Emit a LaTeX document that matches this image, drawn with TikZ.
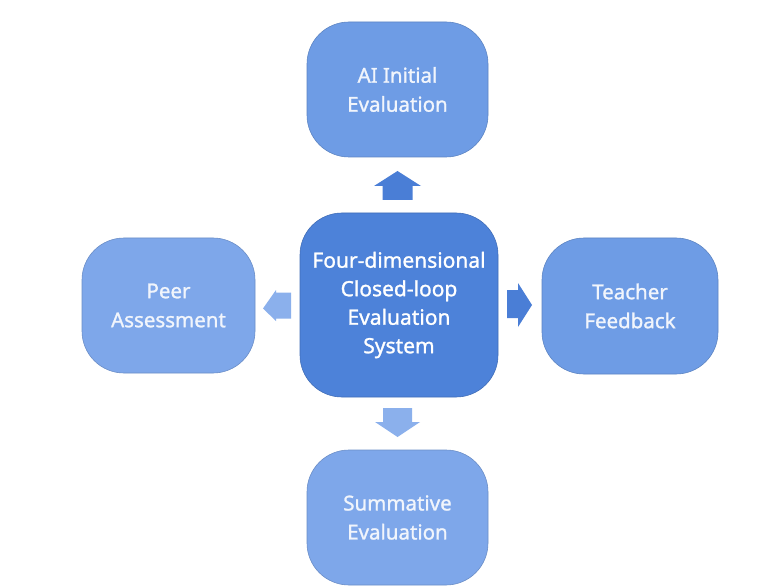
\documentclass[tikz,border=0pt]{standalone}
\usepackage{fontspec}
\setmainfont{Noto Sans}[FakeBold=1.2]
\usetikzlibrary{positioning}
\definecolor{centerblue}{HTML}{4D82D9}
\definecolor{midblue}{HTML}{6E9CE5}
\definecolor{lightblue}{HTML}{7EA7EA}
\definecolor{arrowdark}{HTML}{4A7ED6}
\definecolor{arrowlight}{HTML}{8BB0EC}
\definecolor{boxtext}{HTML}{F1F5FC}
\tikzset{
  x=1pt, y=-1pt,
  outerbox/.style={draw=#1!85!black, line width=0.6pt, fill=#1, rounded corners=42pt, text=boxtext,
    align=center, font=\fontsize{20.5}{29}\selectfont, inner sep=0pt},
  centerbox/.style={draw=centerblue!85!black, line width=0.6pt, fill=centerblue, rounded corners=42pt, text=white,
    align=center, font=\fontsize{21}{28.5}\selectfont, inner sep=0pt},
}
\begin{document}
\begin{tikzpicture}
\useasboundingbox[fill=white] (0,0) rectangle (779,588);
% boxes
\node[centerbox, minimum width=198pt, minimum height=184pt] (center) at (399,305) {Four-dimensional\\Closed-loop\\Evaluation\\System};
\node[outerbox=midblue, minimum width=181pt, minimum height=135pt] (ai) at (397.5,89.5) {AI Initial\\Evaluation};
\node[outerbox=lightblue, minimum width=173pt, minimum height=135pt] (peer) at (168.5,305.5) {Peer\\Assessment};
\node[outerbox=midblue, minimum width=176pt, minimum height=136pt] (teacher) at (630,306) {Teacher\\Feedback};
\node[outerbox=lightblue, minimum width=181pt, minimum height=135pt] (summ) at (397.5,517.5) {Summative\\Evaluation};
% block arrows
\coordinate (upA) at (397.5,171);
\fill[arrowdark] (upA) -- ++(23.5,15) -- ++(-8.5,0) -- ++(0,14) -- ++(-30,0) -- ++(0,-14) -- ++(-8.5,0) -- cycle;
\coordinate (downA) at (397.5,437);
\fill[arrowlight] (downA) -- ++(22.5,-15) -- ++(-8,0) -- ++(0,-14) -- ++(-29,0) -- ++(0,14) -- ++(-8,0) -- cycle;
\coordinate (leftA) at (263,308.5);
\fill[arrowlight] (leftA) -- ++(13,-18.5) -- ++(0,2.5) -- ++(15,0) -- ++(0,26) -- ++(-15,0) -- ++(0,2.5) -- cycle;
\coordinate (rightA) at (532,305);
\fill[arrowdark] (rightA) -- ++(-14,-22) -- ++(0,7) -- ++(-11,0) -- ++(0,28) -- ++(11,0) -- ++(0,9) -- cycle;
\end{tikzpicture}
\end{document}
